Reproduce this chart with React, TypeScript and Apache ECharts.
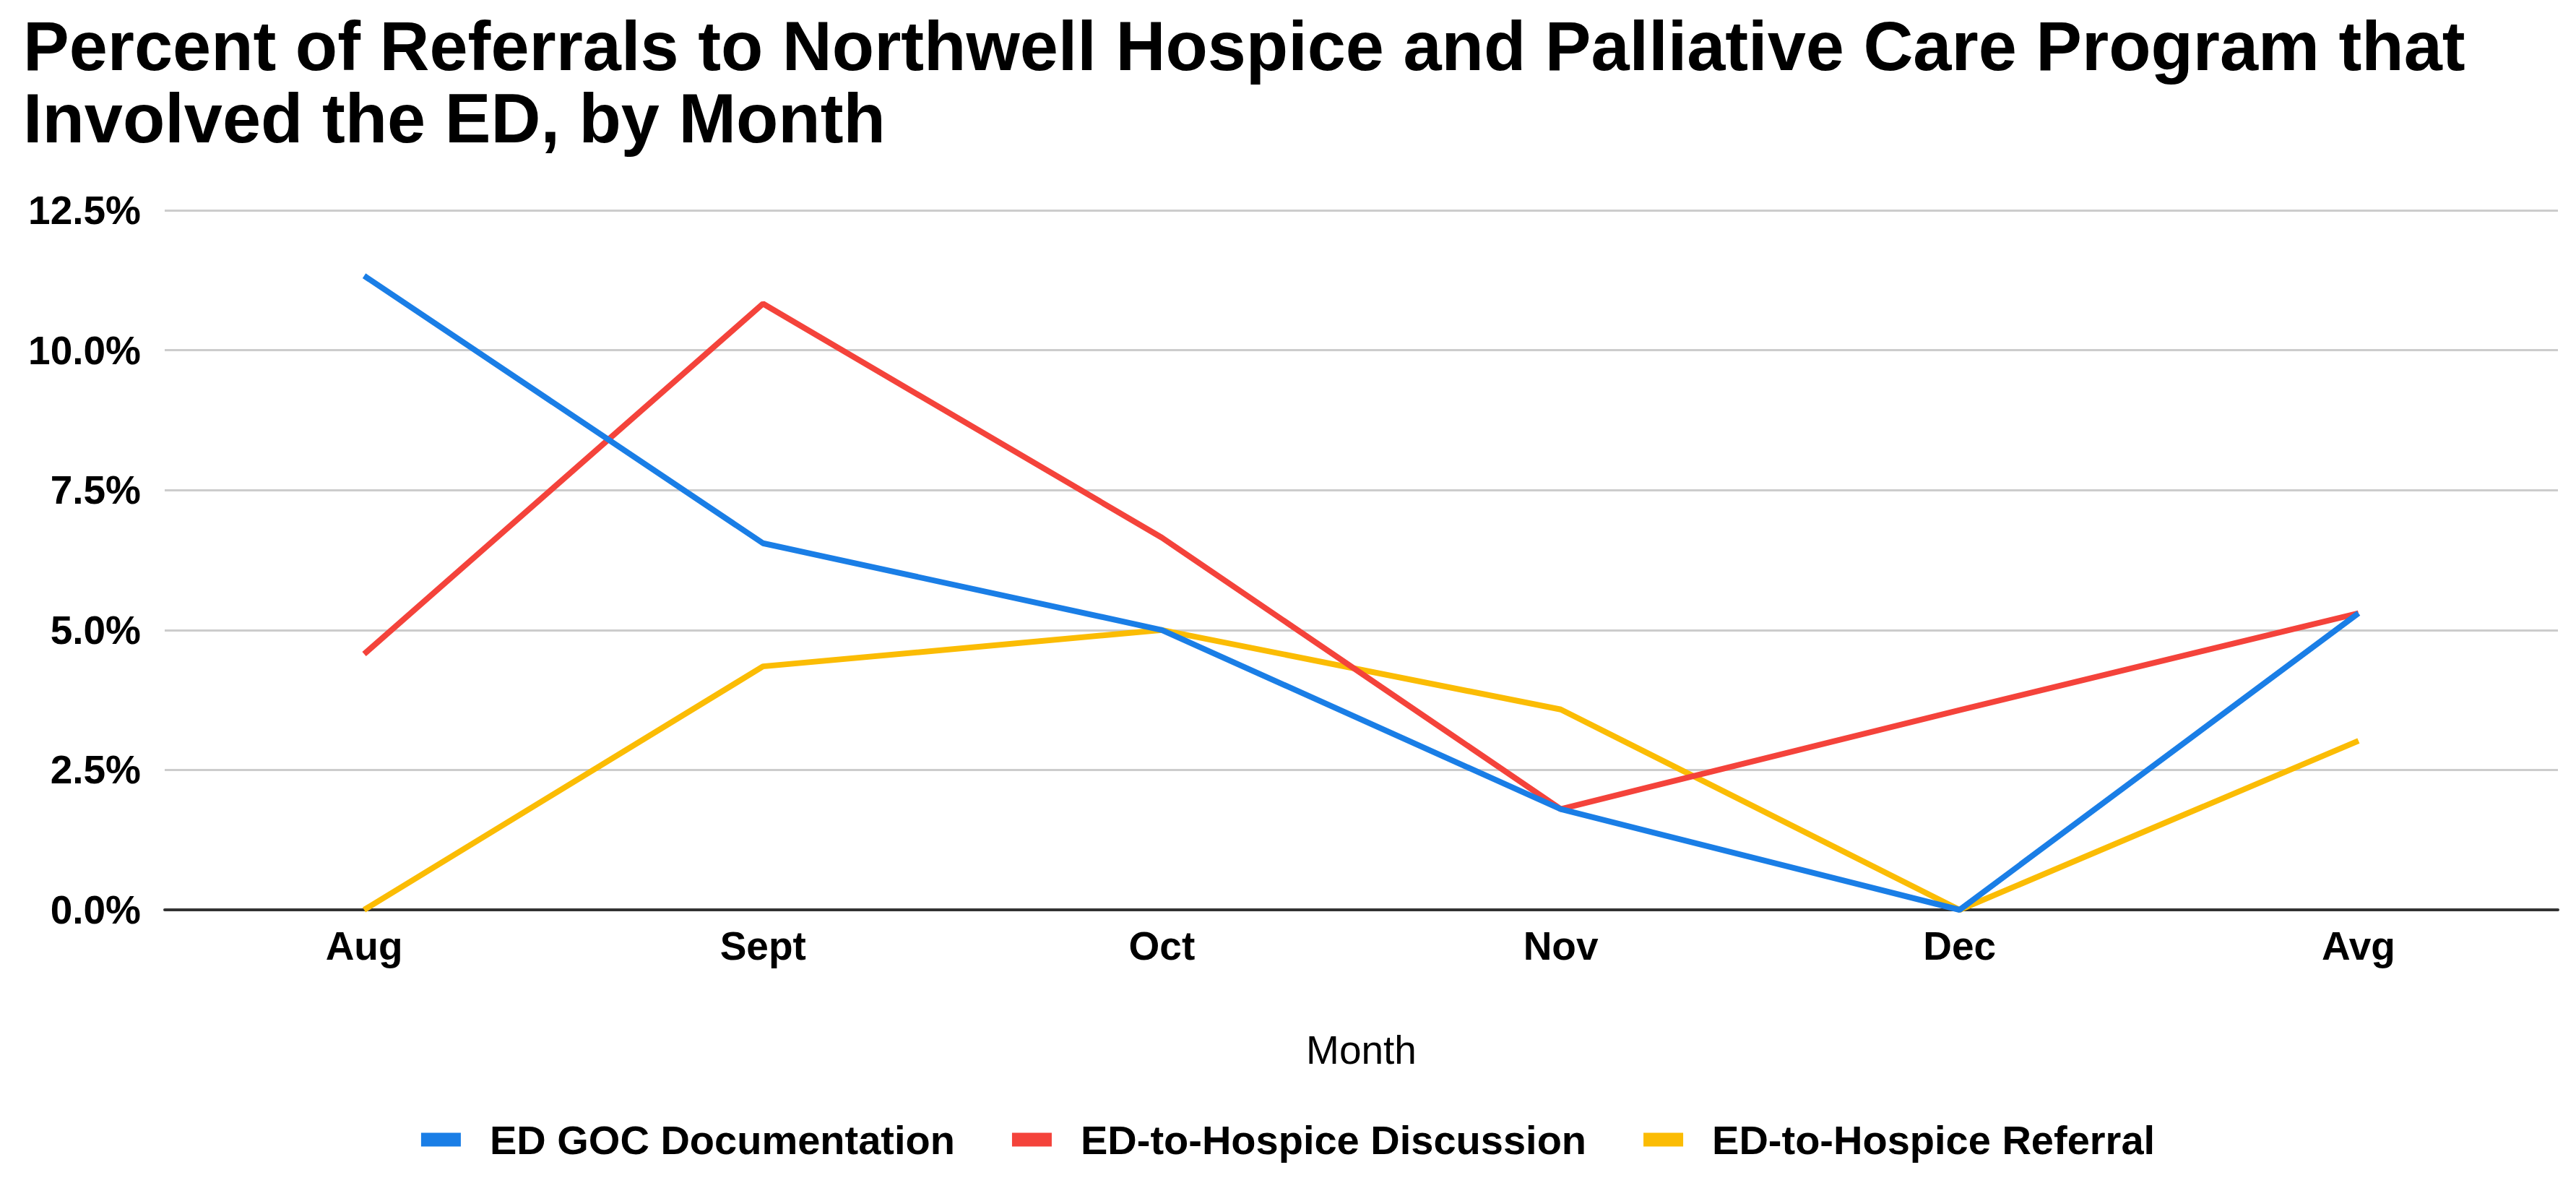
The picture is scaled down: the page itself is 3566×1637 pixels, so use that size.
import React, { useEffect, useRef } from "react";
import * as echarts from "echarts";

const months = ["Aug", "Sept", "Oct", "Nov", "Dec", "Avg"];
const seriesNames = ["ED GOC Documentation", "ED-to-Hospice Discussion", "ED-to-Hospice Referral"];
const gocDocumentation = [11.33, 6.55, 5.0, 1.8, 0, 5.3];
const hospiceDiscussion = [4.57, 10.83, 6.65, 1.8, 3.57, 5.3];
const hospiceReferral = [0, 4.35, 5.0, 3.58, 0, 3.02];
const seriesColors = ["#1a7ee6", "#f4433b", "#fbbc04"];
const titleText = "Percent of Referrals to Northwell Hospice and Palliative Care Program that\nInvolved the ED, by Month";
const axisName = "Month";

const FONT = "'Liberation Sans', Arial, Helvetica, sans-serif";

export default function App() {
  const ref = useRef<HTMLDivElement>(null);
  useEffect(() => {
    if (!ref.current) return;
    const chart = echarts.init(ref.current, undefined, { renderer: "svg" });
    const values = [gocDocumentation, hospiceDiscussion, hospiceReferral];
    chart.setOption({
      animation: false,
      backgroundColor: "#ffffff",
      textStyle: { fontFamily: FONT },
      title: {
        text: titleText,
        left: 32,
        top: 14,
        padding: 0,
        textStyle: {
          fontFamily: FONT,
          fontSize: 95.5,
          fontWeight: "bold",
          color: "#000000",
          lineHeight: 100,
        },
      },
      legend: {
        data: seriesNames,
        left: "center",
        top: 1544,
        itemWidth: 55,
        itemHeight: 19,
        itemGap: 79,
        icon: "rect",
        textStyle: {
          fontFamily: FONT,
          fontSize: 56,
          fontWeight: "bold",
          color: "#000000",
          padding: [0, 0, 0, 35],
        },
      },
      grid: { left: 228, right: 25, top: 291, bottom: 378, containLabel: false },
      xAxis: {
        type: "category",
        data: months,
        boundaryGap: true,
        name: axisName,
        nameLocation: "middle",
        nameGap: 166,
        nameTextStyle: { fontFamily: FONT, fontSize: 55, color: "#000000", fontWeight: "normal" },
        axisLine: { show: true, lineStyle: { color: "#333333", width: 4 } },
        axisTick: { show: false },
        axisLabel: {
          fontFamily: FONT,
          fontSize: 55,
          fontWeight: "bold",
          color: "#000000",
          margin: 22,
        },
        splitLine: { show: false },
      },
      yAxis: {
        type: "value",
        min: 0,
        max: 12.5,
        interval: 2.5,
        axisLine: { show: false },
        axisTick: { show: false },
        axisLabel: {
          fontFamily: FONT,
          fontSize: 55,
          fontWeight: "bold",
          color: "#000000",
          margin: 33,
          formatter: (v: number) => v.toFixed(1) + "%",
        },
        splitLine: { show: true, lineStyle: { color: "#cccccc", width: 3 } },
      },
      series: seriesNames.map((name, i) => ({
        name,
        type: "line",
        data: values[i],
        showSymbol: false,
        symbol: "none",
        lineStyle: { color: seriesColors[i], width: 8 },
        itemStyle: { color: seriesColors[i] },
        z: 3 - i,
      })),
    });
    return () => chart.dispose();
  }, []);
  return (
    <div
      ref={ref}
      style={{ position: "fixed", left: 0, top: 0, width: "100vw", height: "100vh", background: "#fff" }}
    />
  );
}
